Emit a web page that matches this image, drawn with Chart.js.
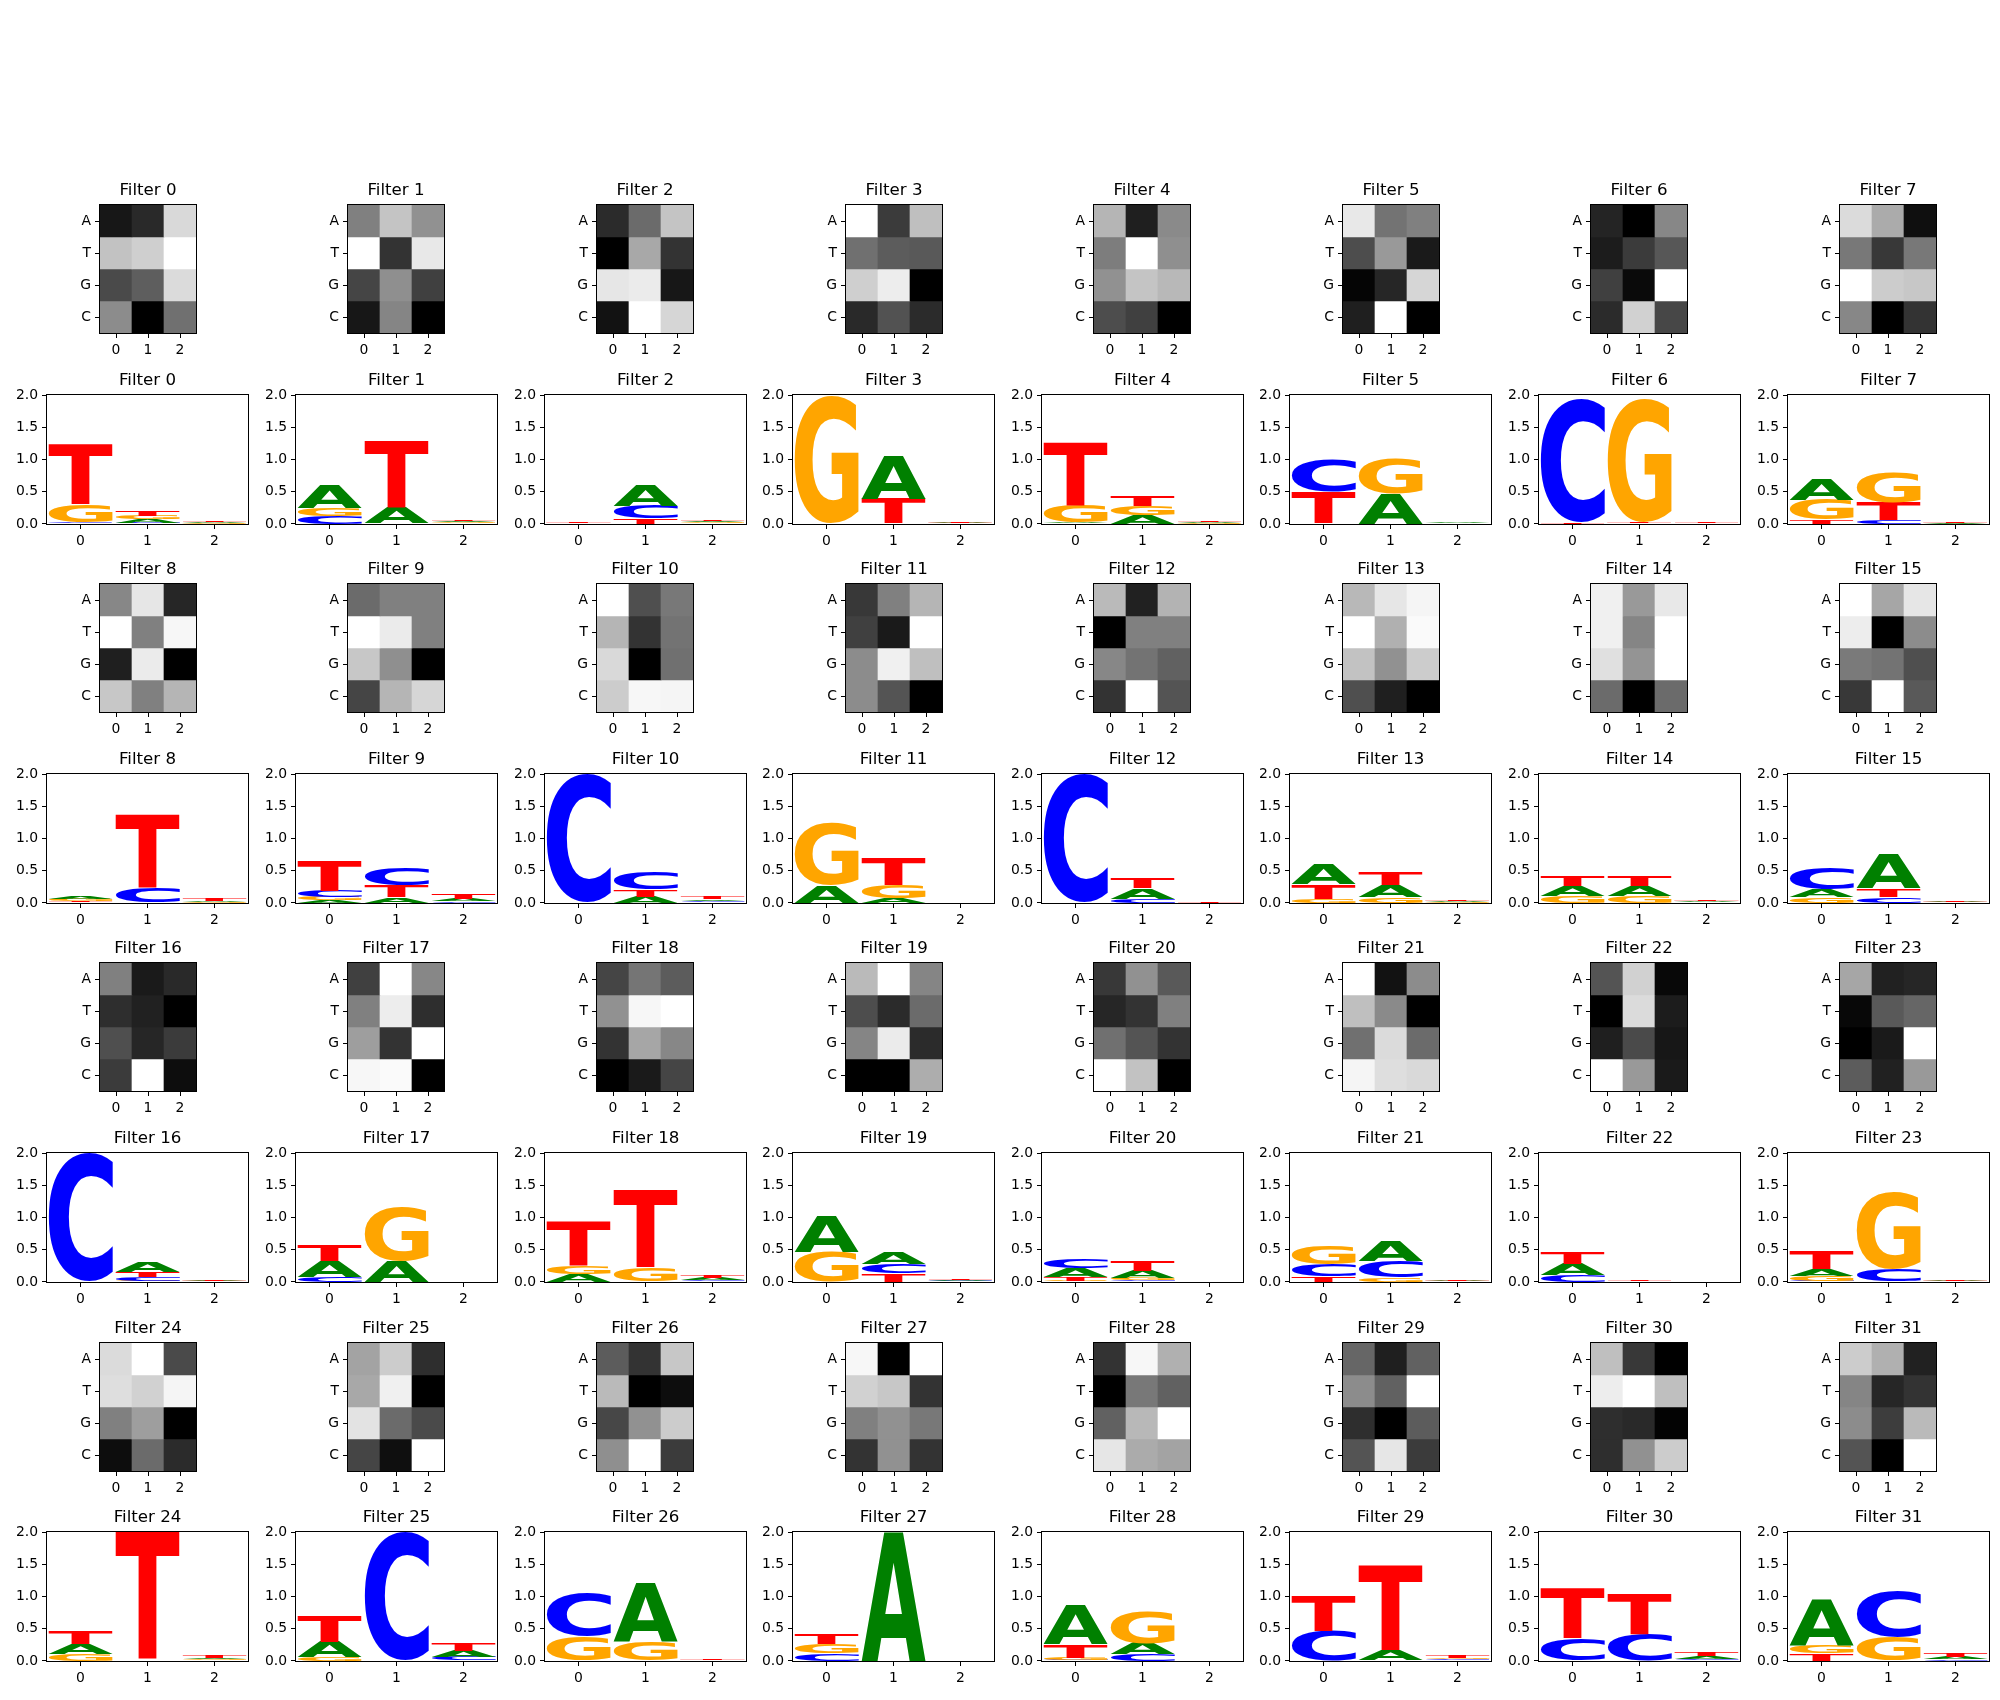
<!DOCTYPE html>
<html><head><meta charset="utf-8">
<script src="https://cdn.jsdelivr.net/npm/chart.js@4.4.1/dist/chart.umd.min.js"></script>
<style>
html,body{margin:0;padding:0;background:#fff;}
#fig{position:relative;width:2000px;height:1700px;overflow:hidden;background:#fff;}
#fig canvas{position:absolute;}
</style></head><body><div id="fig"></div>
<script>
// ---------- data ----------
const bases = ['A','T','G','C'];          // heatmap rows (top to bottom)
const logoLetters = ['A','C','G','T'];
const positions = ['0','1','2'];
const logoTicks = [0, 0.5, 1.0, 1.5, 2.0];

// heatmap cell intensities per filter (row A, T, G, C) for positions 0,1,2
const heatA = [
[0.09,0.16,0.85],[0.50,0.77,0.57],[0.17,0.42,0.77],[1.0,0.23,0.75],[0.71,0.12,0.54],[0.91,0.45,0.50],[0.14,0.0,0.53],[0.86,0.67,0.06],
[0.53,0.90,0.15],[0.42,0.50,0.50],[1.0,0.31,0.47],[0.22,0.50,0.71],[0.73,0.13,0.70],[0.72,0.90,0.96],[0.94,0.60,0.91],[1.0,0.65,0.90],
[0.50,0.10,0.16],[0.25,1.0,0.53],[0.27,0.46,0.36],[0.73,1.0,0.52],[0.22,0.57,0.35],[1.0,0.07,0.55],[0.33,0.82,0.03],[0.65,0.13,0.15],
[0.86,1.0,0.29],[0.64,0.80,0.18],[0.36,0.20,0.78],[0.97,0.0,1.0],[0.20,0.97,0.69],[0.40,0.12,0.38],[0.75,0.22,0.0],[0.80,0.69,0.13]];
const heatT = [
[0.76,0.81,1.0],[1.0,0.20,0.91],[0.0,0.66,0.20],[0.44,0.36,0.35],[0.49,1.0,0.56],[0.30,0.60,0.10],[0.11,0.23,0.34],[0.47,0.22,0.47],
[1.0,0.50,0.97],[1.0,0.92,0.50],[0.71,0.20,0.45],[0.25,0.10,1.0],[0.0,0.50,0.50],[1.0,0.69,0.98],[0.94,0.52,1.0],[0.93,0.0,0.55],
[0.18,0.13,0.0],[0.50,0.93,0.18],[0.57,0.97,1.0],[0.30,0.17,0.42],[0.15,0.20,0.50],[0.75,0.54,0.0],[0.0,0.86,0.11],[0.03,0.35,0.40],
[0.87,0.82,0.96],[0.66,0.94,0.0],[0.73,0.0,0.05],[0.82,0.78,0.20],[0.0,0.47,0.38],[0.55,0.38,1.0],[0.93,1.0,0.75],[0.52,0.15,0.20]];
const heatG = [
[0.29,0.37,0.86],[0.27,0.56,0.25],[0.90,0.92,0.09],[0.81,0.93,0.0],[0.57,0.77,0.72],[0.02,0.15,0.84],[0.25,0.04,1.0],[1.0,0.80,0.78],
[0.12,0.92,0.0],[0.78,0.56,0.0],[0.85,0.0,0.44],[0.55,0.94,0.75],[0.53,0.45,0.38],[0.76,0.57,0.80],[0.88,0.58,1.0],[0.48,0.45,0.31],
[0.31,0.15,0.23],[0.62,0.20,1.0],[0.20,0.65,0.53],[0.52,0.92,0.17],[0.44,0.33,0.20],[0.44,0.86,0.42],[0.12,0.29,0.09],[0.0,0.10,1.0],
[0.50,0.62,0.0],[0.89,0.42,0.29],[0.28,0.57,0.80],[0.50,0.57,0.47],[0.38,0.72,1.0],[0.18,0.0,0.36],[0.18,0.16,0.01],[0.55,0.24,0.73]];
const heatC = [
[0.55,0.0,0.44],[0.09,0.52,0.0],[0.07,1.0,0.84],[0.16,0.32,0.17],[0.30,0.25,0.0],[0.12,1.0,0.0],[0.17,0.82,0.28],[0.53,0.0,0.20],
[0.78,0.50,0.71],[0.27,0.71,0.84],[0.80,0.97,0.96],[0.55,0.33,0.0],[0.20,1.0,0.33],[0.31,0.12,0.0],[0.42,0.0,0.42],[0.22,1.0,0.35],
[0.23,1.0,0.05],[0.97,0.98,0.0],[0.0,0.10,0.27],[0.0,0.0,0.68],[1.0,0.76,0.0],[0.96,0.87,0.85],[1.0,0.60,0.10],[0.36,0.13,0.60],
[0.05,0.42,0.17],[0.27,0.06,1.0],[0.56,1.0,0.23],[0.20,0.57,0.20],[0.90,0.67,0.64],[0.33,0.90,0.23],[0.18,0.57,0.80],[0.33,0.0,1.0]];

// sequence-logo letter heights (bits) per filter for positions 0,1,2
const logoA = [
[0.01,0.05,0.015],[0.36,0.25,0.02],[0.005,0.33,0.02],[0.003,0.66,0.01],[0.01,0.13,0.015],[0.005,0.46,0.01],[0.003,0.003,0.003],[0.315,0.005,0.008],
[0.045,0.005,0.015],[0.04,0.08,0.04],[0.002,0.095,0.025],[0.27,0.07,0.005],[0.002,0.16,0.003],[0.31,0.185,0.015],[0.155,0.155,0.015],[0.11,0.53,0.01],
[0.002,0.16,0.008],[0.24,0.32,0.005],[0.115,0.005,0.03],[0.57,0.17,0.015],[0.13,0.11,0.003],[0.005,0.31,0.01],[0.17,0.005,0.004],[0.10,0.003,0.01],
[0.155,0.004,0.02],[0.24,0.003,0.10],[0.005,0.91,0.004],[0.005,1.99,0.005],[0.61,0.17,0.003],[0.003,0.15,0.01],[0.003,0.002,0.04],[0.70,0.003,0.04]];
const logoC = [
[0.01,0.02,0.005],[0.12,0.005,0.01],[0.005,0.20,0.01],[0.003,0.005,0.005],[0.008,0.005,0.005],[0.50,0.003,0.005],[1.92,0.005,0.003],[0.005,0.05,0.004],
[0.01,0.22,0.005],[0.10,0.28,0.02],[1.99,0.28,0.02],[0.003,0.003,0.004],[1.99,0.06,0.002],[0.005,0.005,0.005],[0.005,0.005,0.005],[0.33,0.09,0.005],
[1.99,0.06,0.004],[0.08,0.003,0.004],[0.005,0.004,0.02],[0.005,0.14,0.01],[0.14,0.03,0.002],[0.19,0.26,0.005],[0.10,0.003,0.003],[0.02,0.19,0.005],
[0.005,0.004,0.01],[0.005,1.99,0.05],[0.68,0.003,0.003],[0.11,0.003,0.004],[0.02,0.10,0.002],[0.46,0.005,0.015],[0.34,0.41,0.02],[0.005,0.72,0.02]];
const logoG = [
[0.28,0.06,0.01],[0.13,0.005,0.015],[0.004,0.005,0.015],[1.98,0.004,0.004],[0.27,0.15,0.01],[0.004,0.54,0.008],[0.002,1.92,0.002],[0.305,0.47,0.003],
[0.03,0.004,0.01],[0.05,0.005,0.005],[0.002,0.005,0.01],[0.97,0.21,0.006],[0.002,0.005,0.002],[0.06,0.09,0.01],[0.10,0.10,0.008],[0.09,0.005,0.004],
[0.002,0.02,0.006],[0.005,0.85,0.003],[0.125,0.21,0.01],[0.45,0.005,0.008],[0.02,0.035,0.003],[0.29,0.06,0.008],[0.005,0.002,0.003],[0.08,1.19,0.008],
[0.10,0.004,0.015],[0.05,0.002,0.01],[0.37,0.29,0.002],[0.155,0.002,0.003],[0.03,0.51,0.003],[0.002,0.004,0.02],[0.002,0.003,0.01],[0.13,0.37,0.005]];
const logoT = [
[0.94,0.08,0.02],[0.005,1.04,0.025],[0.01,0.08,0.025],[0.003,0.38,0.012],[0.97,0.16,0.02],[0.49,0.002,0.004],[0.02,0.015,0.02],[0.06,0.28,0.015],
[0.025,1.13,0.03],[0.47,0.19,0.07],[0.002,0.105,0.03],[0.003,0.42,0.007],[0.002,0.17,0.02],[0.23,0.195,0.016],[0.165,0.165,0.017],[0.005,0.13,0.012],
[0.002,0.075,0.015],[0.25,0.002,0.006],[0.68,1.19,0.045],[0.004,0.13,0.02],[0.06,0.17,0.002],[0.08,0.005,0.015],[0.175,0.02,0.004],[0.28,0.002,0.015],
[0.21,1.99,0.03],[0.40,0.002,0.12],[0.004,0.002,0.01],[0.165,0.002,0.006],[0.21,0.005,0.002],[0.54,1.32,0.03],[0.77,0.62,0.05],[0.11,0.002,0.06]];

// ---------- styles / layout ----------
const letterColors = {A:'#008000', C:'#0000ff', G:'#ffa500', T:'#ff0000'};
const FONT = 'DejaVu Sans';
const colX0 = 47.3, colPitch = 248.6, logoW = 201, logoH = 129;
const rowY0 = 205, rowPitch = 189.6;
const heatW = 96, heatH = 128;
const titleH = 24, xAxisH = 32, padR = 3;

Chart.defaults.font.family = FONT;
Chart.defaults.font.size = 13.9;
Chart.defaults.color = '#000';

const fig = document.getElementById('fig');

const framePlugin = {
  id: 'frame',
  afterDraw(chart) {
    const a = chart.chartArea, ctx = chart.ctx;
    ctx.save();
    ctx.strokeStyle = '#000'; ctx.lineWidth = 1;
    ctx.strokeRect(a.left - 0.5, a.top - 0.5, a.right - a.left + 1, a.bottom - a.top + 1);
    ctx.restore();
  }
};

const glyphCache = {};
function glyphMetrics(ctx, ch) {
  if (glyphCache[ch]) return glyphCache[ch];
  ctx.save();
  ctx.font = 'bold 200px "' + FONT + '"';
  ctx.textBaseline = 'alphabetic'; ctx.textAlign = 'left';
  const m = ctx.measureText(ch);
  ctx.restore();
  const g = {l: m.actualBoundingBoxLeft, r: m.actualBoundingBoxRight, a: m.actualBoundingBoxAscent, d: m.actualBoundingBoxDescent};
  glyphCache[ch] = g;
  return g;
}

const letterPlugin = {
  id: 'letters',
  afterDatasetsDraw(chart) {
    const ctx = chart.ctx, a = chart.chartArea;
    ctx.save();
    ctx.beginPath(); ctx.rect(a.left, a.top, a.right - a.left, a.bottom - a.top); ctx.clip();
    chart.data.datasets.forEach((ds, i) => {
      const meta = chart.getDatasetMeta(i);
      meta.data.forEach((bar, j) => {
        const p = bar.getProps(['x', 'y', 'base', 'width'], true);
        const top = Math.min(p.y, p.base), h = Math.abs(p.base - p.y);
        if (h < 0.15) return;
        const ch = ds.letters[j];
        const g = glyphMetrics(ctx, ch);
        const gw = g.l + g.r, gh = g.a + g.d;
        ctx.save();
        ctx.translate(p.x - p.width / 2, top);
        ctx.scale(p.width / gw, h / gh);
        ctx.font = 'bold 200px "' + FONT + '"';
        ctx.textBaseline = 'alphabetic'; ctx.textAlign = 'left';
        ctx.fillStyle = letterColors[ch];
        ctx.fillText(ch, g.l, g.a);
        ctx.restore();
      });
    });
    ctx.restore();
  }
};

function makeCanvas(left, top, w, h) {
  const c = document.createElement('canvas');
  c.width = w; c.height = h;
  c.style.left = left + 'px'; c.style.top = top + 'px';
  c.style.width = w + 'px'; c.style.height = h + 'px';
  fig.appendChild(c);
  return c;
}

function tickGrid() {
  return {display: true, drawOnChartArea: false, drawTicks: true, tickLength: 5, color: '#000', lineWidth: 1, offset: false};
}

function titleOpts(f) {
  return {display: true, text: 'Filter ' + f, fullSize: false, color: '#000',
    font: {family: FONT, size: 16.67, weight: 'normal', lineHeight: 1.2}, padding: {top: 0, bottom: 4}};
}

function grayOf(v, lo, hi) {
  const g = Math.round(255 * (hi > lo ? (v - lo) / (hi - lo) : 0));
  return 'rgb(' + g + ',' + g + ',' + g + ')';
}

function heatChart(f, areaLeft, areaTop) {
  const yW = 30;
  const c = makeCanvas(areaLeft - yW, areaTop - titleH, yW + heatW + padR, titleH + heatH + xAxisH);
  const rows = [heatA[f], heatT[f], heatG[f], heatC[f]];
  const all = rows.flat();
  const lo = Math.min(...all), hi = Math.max(...all);
  const datasets = rows.map((r, i) => ({
    label: bases[i],
    data: r.map(() => [i - 0.5, i + 0.5]),
    backgroundColor: r.map(v => grayOf(v, lo, hi)),
    borderWidth: 0, grouped: false, categoryPercentage: 1, barPercentage: 1
  }));
  new Chart(c, {
    type: 'bar',
    data: {labels: positions, datasets},
    options: {
      responsive: false, animation: false, devicePixelRatio: 1, events: [],
      layout: {padding: {left: 0, top: 0, bottom: 0, right: padR}},
      plugins: {legend: {display: false}, tooltip: {enabled: false}, title: titleOpts(f)},
      scales: {
        x: {type: 'category', offset: true, grid: tickGrid(), border: {display: false},
            ticks: {padding: 4, font: {size: 13.9}}, afterFit: s => { s.height = xAxisH; }},
        y: {type: 'linear', min: -0.5, max: 3.5, reverse: true, grid: tickGrid(), border: {display: false},
            afterBuildTicks: s => { s.ticks = bases.map((b, i) => ({value: i})); },
            ticks: {padding: 4, font: {size: 13.9}, callback: v => bases[v]},
            afterFit: s => { s.width = yW; }}
      }
    },
    plugins: [framePlugin]
  });
}

function logoChart(f, areaLeft, areaTop) {
  const yW = 44;
  const c = makeCanvas(areaLeft - yW, areaTop - titleH, yW + logoW + padR, titleH + logoH + xAxisH);
  const h = {A: logoA[f], C: logoC[f], G: logoG[f], T: logoT[f]};
  // order letters in each column from smallest (bottom) to largest (top)
  const order = positions.map((p, j) => logoLetters.map(l => ({l, v: h[l][j]})).sort((a, b) => a.v - b.v));
  const datasets = [0, 1, 2, 3].map(r => ({
    label: 'rank ' + r,
    data: order.map(col => col[r].v),
    letters: order.map(col => col[r].l),
    backgroundColor: 'rgba(0,0,0,0)', borderWidth: 0,
    categoryPercentage: 1, barPercentage: 0.96
  }));
  new Chart(c, {
    type: 'bar',
    data: {labels: positions, datasets},
    options: {
      responsive: false, animation: false, devicePixelRatio: 1, events: [],
      layout: {padding: {left: 0, top: 0, bottom: 0, right: padR}},
      plugins: {legend: {display: false}, tooltip: {enabled: false}, title: titleOpts(f)},
      scales: {
        x: {type: 'category', stacked: true, offset: true, grid: tickGrid(), border: {display: false},
            ticks: {padding: 4, font: {size: 13.9}}, afterFit: s => { s.height = xAxisH; }},
        y: {type: 'linear', stacked: true, min: 0, max: 2, grid: tickGrid(), border: {display: false},
            afterBuildTicks: s => { s.ticks = logoTicks.map(v => ({value: v})); },
            ticks: {padding: 4, font: {size: 13.9}, callback: v => Number(v).toFixed(1)},
            afterFit: s => { s.width = yW; }}
      }
    },
    plugins: [letterPlugin, framePlugin]
  });
}

for (let f = 0; f < 32; f++) {
  const col = f % 8, pair = Math.floor(f / 8);
  const L = colX0 + colPitch * col;
  const heatTop = Math.round(rowY0 + rowPitch * (2 * pair));
  const logoTop = Math.round(rowY0 + rowPitch * (2 * pair + 1));
  heatChart(f, Math.round(L + (logoW - heatW) / 2), heatTop);
  logoChart(f, Math.round(L), logoTop);
}
</script>
</body></html>
